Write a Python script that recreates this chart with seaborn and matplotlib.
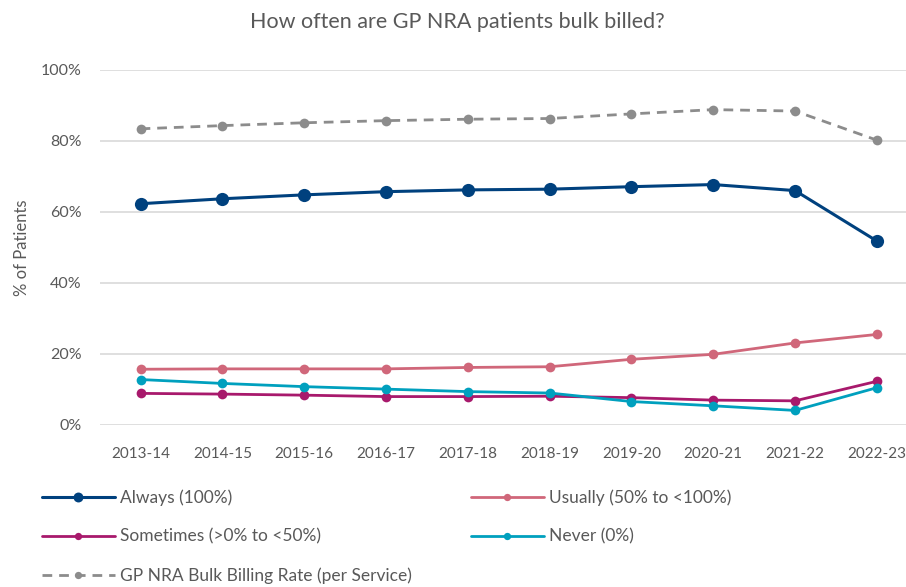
import numpy as np
import pandas as pd
import matplotlib
matplotlib.use("Agg")
import matplotlib.pyplot as plt
import seaborn as sns
from matplotlib.ticker import FuncFormatter

YEARS = ["2013-14", "2014-15", "2015-16", "2016-17", "2017-18",
         "2018-19", "2019-20", "2020-21", "2021-22", "2022-23"]
ALWAYS = [62.3, 63.7, 64.8, 65.7, 66.2, 66.4, 67.1, 67.7, 66.0, 51.8]
USUALLY = [15.7, 15.8, 15.8, 15.8, 16.2, 16.4, 18.5, 19.9, 23.1, 25.5]
SOMETIMES = [8.9, 8.7, 8.4, 8.0, 8.0, 8.1, 7.7, 7.0, 6.8, 12.3]
NEVER = [12.8, 11.7, 10.8, 10.1, 9.4, 9.0, 6.6, 5.4, 4.1, 10.5]
GP_RATE = [83.4, 84.3, 85.1, 85.7, 86.1, 86.3, 87.6, 88.8, 88.4, 80.2]

SERIES = [
    ("Always (100%)", ALWAYS, "#00417E"),
    ("Usually (50% to <100%)", USUALLY, "#D0677A"),
    ("Sometimes (>0% to <50%)", SOMETIMES, "#A8196C"),
    ("Never (0%)", NEVER, "#00A0BE"),
    ("GP NRA Bulk Billing Rate (per Service)", GP_RATE, "#8C8C8C"),
]

sns.set_style("white")
plt.rcParams["font.family"] = ["Lato", "DejaVu Sans"]
TXT = "#595959"

fig = plt.figure(figsize=(9.06, 5.87), dpi=100)
ax = fig.add_axes([0.110, 0.276, 0.903, 0.605])

for label, vals, color in SERIES:
    df = pd.DataFrame({"year": YEARS, "pct": vals})
    big = label.startswith("Always")
    gp = label.startswith("GP")
    sns.lineplot(data=df, x="year", y="pct", ax=ax, sort=False,
                 color=color, marker="o",
                 markersize=9.5 if big else 7,
                 markeredgewidth=0,
                 linewidth=2.2 if big else 2.0,
                 linestyle=(0, (3.5, 2.5)) if gp else "-",
                 label=label)

ax.set_xlim(-0.5, 9.5)
ax.set_ylim(0, 100)
ax.set_yticks(np.arange(0, 101, 20))
ax.yaxis.set_major_formatter(FuncFormatter(lambda v, _: f"{v:.0f}%"))
ax.grid(axis="y", color="#D9D9D9", linewidth=1.2)
ax.set_axisbelow(True)
for s in ax.spines.values():
    s.set_visible(False)
ax.tick_params(axis="y", length=0, pad=13, labelsize=11.5, labelcolor=TXT)
ax.tick_params(axis="x", length=0, pad=16, labelsize=11, labelcolor=TXT)
ax.set_xlabel("")
ax.set_ylabel("% of Patients", fontsize=12, color=TXT, labelpad=8)

fig.text(0.505, 0.962, "How often are GP NRA patients bulk billed?",
         ha="center", va="center", fontsize=15.5, color=TXT)

h, l = ax.get_legend_handles_labels()
ax.get_legend().remove()
order = [0, 2, 4, 1, 3]
fig.legend([h[i] for i in order], [l[i] for i in order], ncol=2,
           loc="upper left", bbox_to_anchor=(0.046, 0.166), frameon=False,
           fontsize=12.5, labelcolor=TXT, handlelength=4.2, handletextpad=0.3,
           columnspacing=3.4, labelspacing=1.3, borderpad=0, borderaxespad=0,
           markerscale=0.75)

fig.savefig("out.png", dpi=100)
